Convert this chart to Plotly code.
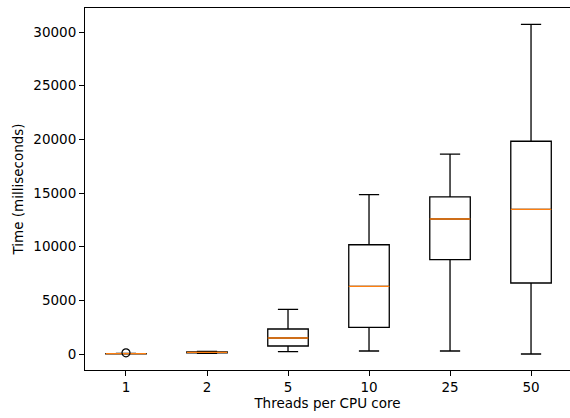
import plotly.graph_objects as go

# Threads-per-core settings and their timing distributions (ms)
labels = ["1", "2", "5", "10", "25", "50"]
positions = [1, 2, 3, 4, 5, 6]
lower_whisker = [10, 60, 220, 280, 280, 0]
q1 = [20, 110, 745, 2480, 8790, 6615]
median = [30, 160, 1490, 6300, 12580, 13480]
q3 = [40, 200, 2330, 10180, 14630, 19820]
upper_whisker = [50, 250, 4165, 14840, 18630, 30720]
# Outliers: position and value
outlier_pos = [1]
outlier_val = [110]

y_ticks = [0, 5000, 10000, 15000, 20000, 25000, 30000]

FONT = "DejaVu Sans"
FS = 13.5
BOX_W = 0.5

fig = go.Figure()

for i, p in enumerate(positions):
    fig.add_trace(go.Box(
        x=[p],
        q1=[q1[i]], median=[median[i]], q3=[q3[i]],
        lowerfence=[lower_whisker[i]], upperfence=[upper_whisker[i]],
        width=BOX_W, whiskerwidth=0.5,
        line=dict(color="black", width=1.3),
        fillcolor="rgba(255,255,255,0)",
        boxpoints=False, showlegend=False, hoverinfo="skip",
    ))
    # orange median line over the black one drawn by the box
    fig.add_trace(go.Scatter(
        x=[p - BOX_W / 2, p + BOX_W / 2], y=[median[i], median[i]],
        mode="lines", line=dict(color="#ff7f0e", width=1.3),
        showlegend=False, hoverinfo="skip",
    ))

fig.add_trace(go.Scatter(
    x=outlier_pos, y=outlier_val, mode="markers",
    marker=dict(symbol="circle-open", size=8, color="black", line=dict(width=1.2)),
    showlegend=False, hoverinfo="skip",
))

# the axes box is open on the right: keep that edge clear
fig.add_shape(type="rect", xref="paper", yref="paper", x0=0.994, x1=1.0, y0=0.003, y1=0.997,
              line=dict(width=0), fillcolor="white", layer="above")

fig.update_layout(
    width=570, height=418,
    margin=dict(l=85, r=0, t=8, b=48),
    paper_bgcolor="white", plot_bgcolor="white",
    font=dict(family=FONT, size=FS, color="black"),
    xaxis=dict(
        range=[0.494, 6.481],
        tickmode="array", tickvals=positions, ticktext=labels,
        showgrid=False, zeroline=False,
        showline=True, linecolor="black", linewidth=1, mirror=True,
        ticks="outside", ticklen=5, tickcolor="black",
        tickfont=dict(size=FS),
        title=dict(text="Threads per CPU core", standoff=3, font=dict(size=FS)),
    ),
    yaxis=dict(
        range=[-1491, 32237],
        tickmode="array", tickvals=y_ticks, ticktext=[str(v) for v in y_ticks],
        showgrid=False, zeroline=False,
        showline=True, linecolor="black", linewidth=1, mirror=False,
        ticks="outside", ticklen=5, tickcolor="black",
        tickfont=dict(size=FS),
        title=dict(text="Time (milliseconds)", standoff=6, font=dict(size=FS)),
    ),
)

fig.write_html("out.html", config={"displayModeBar": False})
